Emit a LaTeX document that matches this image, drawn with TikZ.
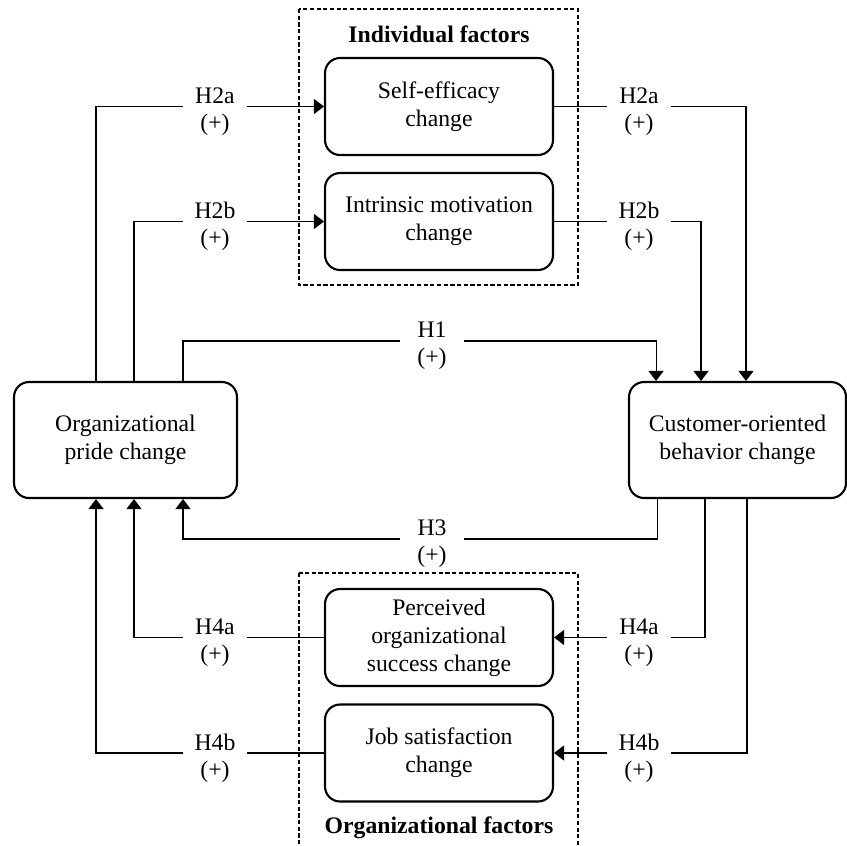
\documentclass[tikz,border=0pt]{standalone}
\usepackage{fontspec}
\setmainfont{Liberation Serif}
\usepackage{tikz}
\usetikzlibrary{positioning,shapes,arrows.meta,calc}

\begin{document}
\begin{tikzpicture}[x=0.02cm,y=-0.02cm,
    font=\fontsize{13.5}{16}\selectfont,
    >={Triangle[length=0.2cm,width=0.3cm]},
    factor/.style={draw,line width=1.2pt,rounded corners=0.3cm,align=center,minimum width=4.56cm,minimum height=1.94cm,inner sep=0pt},
    mainbox/.style={factor,minimum height=2.32cm},
    hyp/.style={minimum width=1.28cm,inner sep=0pt,
        label={[align=center,yshift=-0.1cm,font=\fontsize{13.5}{15.3}\selectfont]center:#1}},
    link/.style={line width=0.6pt},
    group/.style={line width=0.6pt,dash pattern=on 2.4pt off 1.4pt}]
    \useasboundingbox (0,0) rectangle (847,845);
    \draw[group] (299,9) rectangle (578,285);
    \draw[group] (299,573) rectangle (578,880);
    \node (indiv) at (439,34) {\textbf{Individual factors}};
    \node (orgf) at (439,828) {\textbf{Organizational factors}};

    \node[factor] (self) at (439,106.5) {Self-efficacy\\change};
    \node[factor] (intr) at (439,221.5) {Intrinsic motivation\\change};
    \node[factor] (perc) at (439,637.5) {Perceived\\organizational\\success change};
    \node[factor] (job) at (439,753) {Job satisfaction\\change};
    \node[mainbox,minimum width=4.46cm] (org) at (125.5,440) {Organizational\\pride change};
    \node[mainbox,minimum width=4.34cm] (cust) at (737.5,440) {Customer-oriented\\behavior change};

    \node[hyp={H2a\\(+)}] (h2aL) at (215,106.5) {};
    \node[hyp={H2b\\(+)}] (h2bL) at (215,221.5) {};
    \node[hyp={H2a\\(+)}] (h2aR) at (639,106.5) {};
    \node[hyp={H2b\\(+)}] (h2bR) at (639,221.5) {};
    \node[hyp={H1\\(+)}] (h1) at (432,341) {};
    \node[hyp={H3\\(+)}] (h3) at (432,539) {};
    \node[hyp={H4a\\(+)}] (h4aL) at (215,637.5) {};
    \node[hyp={H4b\\(+)}] (h4bL) at (215,753) {};
    \node[hyp={H4a\\(+)}] (h4aR) at (639,637.5) {};
    \node[hyp={H4b\\(+)}] (h4bR) at (639,753) {};

    \draw[link] ([xshift=-0.59cm]org.north) |- (h2aL);
    \draw[link,->] (h2aL) -- (self);
    \draw[link] ([xshift=0.17cm]org.north) |- (h2bL);
    \draw[link,->] (h2bL) -- (intr);
    \draw[link] (self) -- (h2aR);
    \draw[link,->] (h2aR) -| ([xshift=0.17cm]cust.north);
    \draw[link] (intr) -- (h2bR);
    \draw[link,->] (h2bR) -| ([xshift=-0.73cm]cust.north);
    \draw[link] ([xshift=1.15cm]org.north) |- (h1);
    \draw[link,->] (h1) -| ([xshift=-1.63cm]cust.north);
    \draw[link] ([xshift=-1.61cm]cust.south) |- (h3);
    \draw[link,->] (h3) -| ([xshift=1.15cm]org.south);
    \draw[link] ([xshift=-0.65cm]cust.south) |- (h4aR);
    \draw[link,->] (h4aR) -- (perc);
    \draw[link] ([xshift=0.19cm]cust.south) |- (h4bR);
    \draw[link,->] (h4bR) -- (job);
    \draw[link] (perc) -- (h4aL);
    \draw[link,->] (h4aL) -| ([xshift=0.17cm]org.south);
    \draw[link] (job) -- (h4bL);
    \draw[link,->] (h4bL) -| ([xshift=-0.59cm]org.south);
\end{tikzpicture}
\end{document}
